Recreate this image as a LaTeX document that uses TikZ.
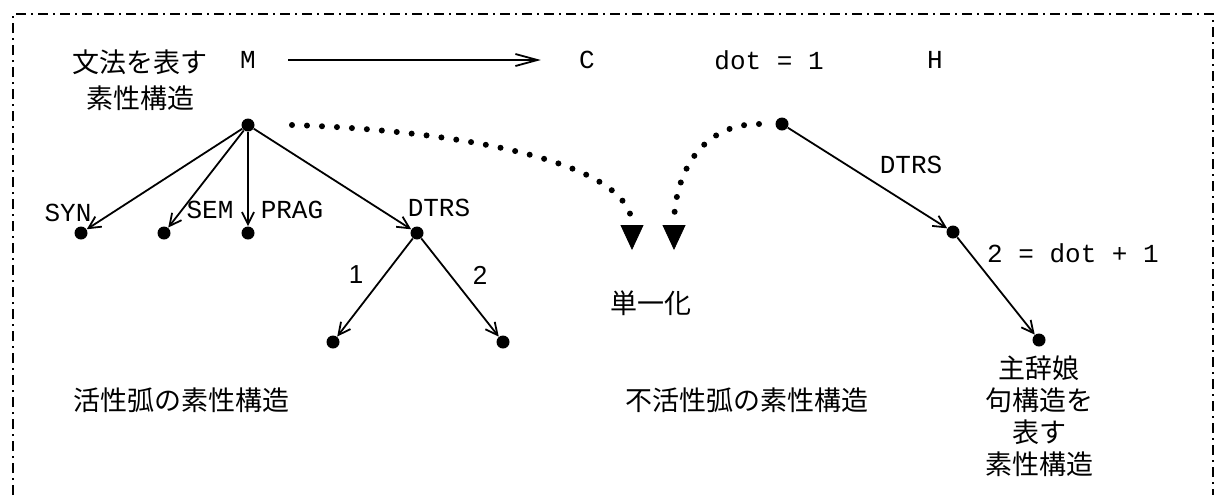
\documentclass[tikz,border=0pt]{standalone}
\usepackage{fontspec}
\setsansfont{Liberation Sans}
\setmonofont{Liberation Mono}
\newfontfamily\jpfont{Noto Sans CJK JP}
\usetikzlibrary{arrows.meta,positioning}

\begin{document}
\begin{tikzpicture}[
  x=0.5pt, y=-0.5pt,
  font=\ttfamily\fontsize{13}{15}\selectfont,
  feat/.style={circle, fill=black, inner sep=0pt, minimum size=6.5pt},
  tag/.style={inner sep=1pt},
  jp/.style={font=\jpfont\fontsize{13.5}{18}\selectfont, align=center, inner sep=1pt},
  num/.style={font=\sffamily\fontsize{13}{15}\selectfont, inner sep=1pt},
  link/.style={-{Straight Barb[length=6pt,width=6pt]}, line width=0.9pt},
  unify/.style={line width=3pt, line cap=round, dash pattern=on 0pt off 7.5pt,
                -{Triangle[length=12.5pt,width=11.5pt,line width=0.4pt]}},
  frame/.style={line width=0.8pt, dash pattern=on 5pt off 2.5pt on 1pt off 2.5pt}
]
  \useasboundingbox (0,0) rectangle (1215,495);
  \draw[frame] (13,495) -- (13,14) -- (1213,14) -- (1213,495);

  % top row
  \node[jp] (grammar) at (140,80) {文法を表す\\素性構造};
  \node[tag] (m) at (248,60) {M};
  \node[tag] (c) at (587,60) {C};
  \node[tag] (dotval) at (769,60) {dot = 1};
  \node[tag] (h) at (935,60) {H};
  \draw[-{Straight Barb[length=11pt,width=6pt]}, line width=0.9pt,
        shorten <=15pt, shorten >=18pt] (m) -- (c);

  % active arc
  \node[feat] (mroot) at (248,125) {};
  \node[feat] (syn) at (81,233) {};
  \node[feat] (sem) at (164,233) {};
  \node[feat] (prag) at (248,233) {};
  \node[feat] (dtrs) at (417,233) {};
  \node[feat] (d1) at (333,342) {};
  \node[feat] (d2) at (503,342) {};
  \node[tag] at (68,213) {SYN};
  \node[tag] at (210,210) {SEM};
  \node[tag] at (292,210) {PRAG};
  \node[tag] at (439,208) {DTRS};
  \node[num] at (356,275) {1};
  \node[num] at (480,275) {2};
  \draw[link] (mroot) -- (syn);
  \draw[link] (mroot) -- (sem);
  \draw[link] (mroot) -- (prag);
  \draw[link] (mroot) -- (dtrs);
  \draw[link] (dtrs) -- (d1);
  \draw[link] (dtrs) -- (d2);

  % inactive arc
  \node[feat] (hroot) at (782,124) {};
  \node[feat] (hdtrs) at (953,232) {};
  \node[feat] (hdtr) at (1039,340) {};
  \node[tag] at (911,165) {DTRS};
  \node[tag] at (1073,253) {2 = dot + 1};
  \draw[link] (hroot) -- (hdtrs);
  \draw[link] (hdtrs) -- (hdtr);
  \node[jp, font=\jpfont\fontsize{13.5}{16}\selectfont, below=3pt of hdtr] (headdtr)
    {主辞娘\\句構造を\\表す\\素性構造};

  % unification
  \coordinate (u1) at (632,250);
  \coordinate (u2) at (674,250);
  \draw[unify] ([xshift=22pt]mroot.center) .. controls (450,130) and (632,160) .. (u1);
  \draw[unify] ([xshift=-11.5pt]hroot.center) .. controls (700,124) and (674,175) .. (u2);
  \node[jp] (unif) at (651,303) {単一化};

  \node[jp] (activefs) at (181,400) {活性弧の素性構造};
  \node[jp] (inactivefs) at (747,400) {不活性弧の素性構造};
\end{tikzpicture}
\end{document}
